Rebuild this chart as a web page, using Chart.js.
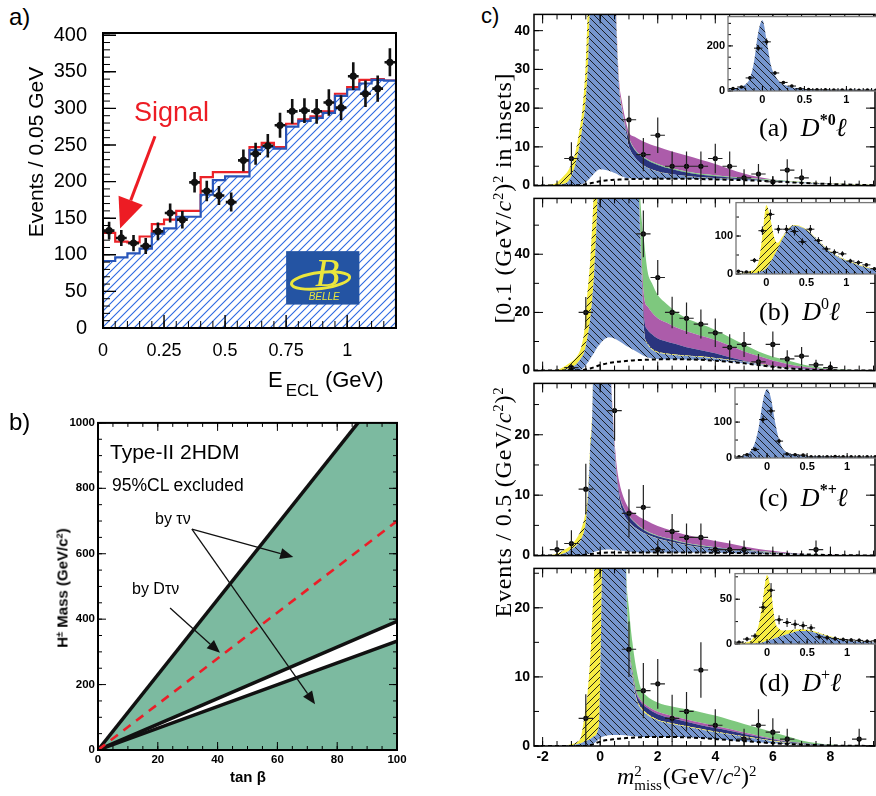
<!DOCTYPE html>
<html>
<head>
<meta charset="utf-8">
<title>B to D(*) tau nu</title>
<script src="https://cdn.jsdelivr.net/npm/chart.js@4.4.1/dist/chart.umd.min.js"></script>
<style>
  html, body { margin: 0; padding: 0; overflow: hidden; background: #fff; }
  body { position: relative; width: 876px; height: 796px; font-family: "Liberation Sans", Arial, sans-serif; color: #000; }
  canvas { position: absolute; }
  .t { position: absolute; white-space: nowrap; line-height: 1; z-index: 5; }
  .t sup { font-size: 0.62em; vertical-align: 0.55em; line-height: 0; }
  .rot { transform: translate(-50%, -50%) rotate(-90deg); }
  .serif { font-family: "Liberation Serif", "DejaVu Serif", serif; }
  .ss { display: inline-block; vertical-align: middle; font-size: 15px; line-height: 14px; margin-right: 1px; }
  .ss span { display: block; }
  .lab sup { font-size: 16px; vertical-align: 11px; }
</style>
</head>
<body>

<!-- panel a texts -->
<div class="t" style="left:9px;top:5px;font-size:24px">a)</div>
<div class="t" style="left:134px;top:99px;font-size:27px;color:#ed1c24">Signal</div>
<div class="t rot" style="left:35px;top:152px;font-size:21px">Events / 0.05 GeV</div>
<div class="t" style="left:268px;top:369px;font-size:22px">E<span style="font-size:17px;position:relative;top:9px;margin-left:3px">ECL</span> (GeV)</div>

<!-- panel b texts -->
<div class="t" style="left:9px;top:410px;font-size:24px">b)</div>
<div class="t" style="left:110px;top:441px;font-size:21px">Type-II 2HDM</div>
<div class="t" style="left:112px;top:477px;font-size:17.5px">95%CL excluded</div>
<div class="t" style="left:155px;top:511px;font-size:16px">by τν</div>
<div class="t" style="left:132px;top:581px;font-size:16px">by Dτν</div>
<div class="t" style="left:230px;top:769px;font-size:15px;font-weight:bold">tan β</div>
<div class="t rot" style="left:62px;top:588px;font-size:15px;font-weight:bold">H<sup>±</sup> Mass (GeV/c<sup>2</sup>)</div>

<!-- panel c texts -->
<div class="t" style="left:481px;top:5px;font-size:22px">c)</div>
<div class="t rot serif" style="left:503px;top:198px;font-size:24px;letter-spacing:0.8px">[0.1 (GeV/<i>c</i><sup>2</sup>)<sup>2</sup> in insets]</div>
<div class="t rot serif" style="left:503px;top:502px;font-size:24px;letter-spacing:0.8px">Events / 0.5 (GeV/<i>c</i><sup>2</sup>)<sup>2</sup></div>
<div class="t serif lab" style="left:759px;top:115px;font-size:26px">(a)&nbsp; <i>D</i><sup><b>*0</b></sup><i>ℓ</i></div>
<div class="t serif lab" style="left:759px;top:299px;font-size:26px">(b)&nbsp; <i>D</i><sup>0</sup><i>ℓ</i></div>
<div class="t serif lab" style="left:759px;top:485px;font-size:26px">(c)&nbsp; <i>D</i><sup><b>*+</b></sup><i>ℓ</i></div>
<div class="t serif lab" style="left:759px;top:670px;font-size:26px">(d)&nbsp; <i>D</i><sup>+</sup><i>ℓ</i></div>
<div class="t serif" style="left:617px;top:764px;font-size:24px"><i>m</i><span class="ss"><span>2</span><span>miss</span></span>(GeV/<i>c</i><sup>2</sup>)<sup>2</sup></div>

<script>
// ---------------- panel a : E_ECL ----------------
const eEclEdges = [0, 0.05, 0.1, 0.15, 0.2, 0.25, 0.3, 0.35, 0.4, 0.45, 0.5, 0.55, 0.6, 0.65, 0.7, 0.75, 0.8, 0.85, 0.9, 0.95, 1.0, 1.05, 1.1, 1.15, 1.2];
const eEclCenters = [0.025, 0.075, 0.125, 0.175, 0.225, 0.275, 0.325, 0.375, 0.425, 0.475, 0.525, 0.575, 0.625, 0.675, 0.725, 0.775, 0.825, 0.875, 0.925, 0.975, 1.025, 1.075, 1.125, 1.175];
const eEclEvents = [133, 123, 116, 112, 132, 157, 148, 199, 187, 181, 172, 229, 238, 249, 277, 296, 297, 296, 308, 301, 344, 320, 327, 363];
const eEclErr = [12, 11, 11, 11, 12, 13, 12, 14, 14, 13, 13, 15, 15, 16, 17, 17, 17, 17, 18, 17, 19, 18, 18, 19];
const eEclBkg = [91.5, 96.6, 102, 108.5, 129, 136, 152, 152, 182, 202, 207, 207, 243, 247, 245, 275, 283, 287, 294, 317, 326, 334, 339, 338];
const eEclTotal = [130, 118, 117, 125, 142, 148, 160, 160, 206, 213, 213, 213, 247, 253, 247, 279, 285, 289, 296, 320, 329, 339, 340, 338];
const eEclXTicks = [0, 0.25, 0.5, 0.75, 1];
const eEclYTicks = [0, 50, 100, 150, 200, 250, 300, 350, 400];

// ---------------- panel b : tan beta vs H+ mass ----------------
const tanBeta = [0, 100];
const mHTauNu = [0, 1150];
const mHDTauNuUp = [0, 393];
const mHDTauNuLow = [0, 333];
const mHDTauNuExp = [0, 700];
const tanBetaTicks = [0, 20, 40, 60, 80, 100];
const mHTicks = [0, 200, 400, 600, 800, 1000];

// ---------------- panel c : m_miss^2 fits (stack tops) ----------------
const mm2Ticks = [-2, 0, 2, 4, 6, 8];

const dsz0Grid = [-2.3, -1.6, -1.3, -1.1, -0.9, -0.75, -0.6, -0.5, -0.4, -0.3, 0, 0.4, 0.55, 0.65, 0.75, 0.85, 1.0, 1.2, 1.5, 2, 2.5, 3, 3.5, 4, 4.5, 5, 5.5, 6, 6.5, 7, 8, 9.55];
const dsz0Comb = [0, 0, 0, 0, 0.05, 0.1, 0.2, 0.35, 0.5, 0.65, 1.1, 1.45, 1.5, 1.55, 1.6, 1.62, 1.65, 1.7, 1.75, 1.8, 1.8, 1.8, 1.7, 1.6, 1.5, 1.4, 1.25, 1.1, 0.9, 0.7, 0.4, 0.1];
const dsz0Other = [0, 0, 0, 0, 0.05, 0.15, 0.5, 1.0, 1.6, 2.4, 4.2, 3.6, 3.1, 2.7, 2.4, 2.1, 1.9, 1.8, 1.75, 1.8, 1.8, 1.8, 1.7, 1.6, 1.5, 1.4, 1.25, 1.1, 0.9, 0.7, 0.4, 0.1];
const dsz0Norm = [0, 0.05, 0.4, 1.2, 4.5, 9, 16, 22, 36, 70, 300, 90, 44, 26, 20, 15.5, 10, 7.3, 5.2, 3.6, 2.9, 2.4, 2.1, 1.9, 1.7, 1.55, 1.4, 1.25, 1.05, 0.85, 0.5, 0.12];
const dsz0Feed = [0, 0.4, 2.2, 4.0, 7.5, 13, 21, 32, 55, 90, 310, 92, 45, 26.5, 20.3, 15.7, 10.1, 7.35, 5.25, 3.65, 2.95, 2.45, 2.15, 1.95, 1.75, 1.6, 1.45, 1.3, 1.1, 0.9, 0.52, 0.13];
const dsz0Dss = [0, 0.4, 2.2, 4.0, 7.5, 13, 21, 32, 55, 90, 310, 92, 45, 26.5, 20.3, 16.2, 12, 9.2, 7.2, 5.3, 4.2, 3.4, 2.8, 2.4, 2.1, 1.85, 1.6, 1.4, 1.15, 0.95, 0.55, 0.13];
const dsz0DTau = [0, 0.4, 2.2, 4.0, 7.5, 13, 21, 32, 55, 90, 310, 92, 45, 26.5, 20.3, 16.3, 12.3, 9.45, 7.45, 5.55, 4.45, 3.65, 3.05, 2.65, 2.3, 2.0, 1.75, 1.5, 1.25, 1.0, 0.57, 0.13];
const dsz0DsTau = [0, 0.4, 2.2, 4.0, 7.5, 13, 21, 32, 55, 90, 310, 93, 46.5, 28, 22, 18, 13.8, 12.6, 11.4, 10, 8.8, 7.8, 6.7, 5.6, 4.3, 3.1, 2.2, 1.6, 1.25, 1.0, 0.57, 0.13];
const dsz0DataX = [-1, 1, 1.5, 2, 2.5, 3, 3.5, 4, 4.5, 5, 5.5, 6, 6.5, 7];
const dsz0DataY = [7, 17, 8, 13, 5, 5, 5, 7, 5, 2, 3, 1, 4, 2];
const dsz0DataErr = [4.2, 6.2, 4.3, 4.6, 3.8, 3.8, 3.8, 3.8, 3.8, 2.2, 2.6, 1.5, 2.8, 2.2];

const dz0Grid = [-2.3, -1.5, -1.2, -1.0, -0.8, -0.65, -0.55, -0.45, -0.32, -0.2, -0.1, 0.3, 1.0, 1.3, 1.42, 1.53, 1.65, 1.8, 2.0, 2.3, 2.6, 3.0, 3.5, 4.0, 4.5, 5, 5.5, 6, 6.5, 7, 7.5, 8, 9.55];
const dz0Comb = [0, 0, 0, 0, 0.1, 0.2, 0.3, 0.5, 0.8, 1.2, 1.6, 2.6, 3.4, 3.6, 3.65, 3.7, 3.75, 3.8, 3.85, 3.9, 3.9, 3.85, 3.7, 3.4, 3.0, 2.5, 1.9, 1.3, 0.8, 0.45, 0.2, 0.1, 0];
const dz0Other = [0, 0, 0, 0, 0.1, 0.4, 1.2, 2.5, 4.5, 6.3, 8, 11.5, 8.0, 6.3, 5.6, 5.0, 4.5, 4.2, 4.0, 3.9, 3.9, 3.85, 3.7, 3.4, 3.0, 2.5, 1.9, 1.3, 0.8, 0.45, 0.2, 0.1, 0];
const dz0Norm = [0, 0.05, 0.3, 1.0, 2.5, 4.5, 6.5, 11, 20, 35, 57, 200, 200, 75, 38, 13, 9, 7.2, 6.2, 5.6, 5.3, 5.0, 4.7, 4.2, 3.6, 3.0, 2.3, 1.6, 1.0, 0.6, 0.3, 0.12, 0];
const dz0Feed = [0, 0.3, 1.7, 3.0, 5.0, 8.5, 14, 26, 42, 70, 120, 250, 201, 76, 38.5, 13.4, 9.3, 7.5, 6.5, 5.9, 5.55, 5.2, 4.9, 4.35, 3.75, 3.1, 2.4, 1.7, 1.05, 0.62, 0.3, 0.12, 0];
const dz0Dss = [0, 0.3, 1.7, 3.0, 5.0, 8.5, 14, 26, 42, 70, 120, 250, 201, 76, 40, 17.7, 14, 12.5, 11, 10, 9.2, 8.0, 7.0, 6.0, 4.6, 3.4, 2.4, 1.6, 1.1, 0.7, 0.35, 0.13, 0];
const dz0DsTau = [0, 0.3, 1.7, 3.0, 5.0, 8.5, 14, 26, 42, 70, 120, 250, 201, 76, 42, 25, 22, 20, 18, 16.5, 15, 13.5, 12, 10.5, 8.6, 6.6, 5.0, 3.5, 2.3, 1.4, 0.8, 0.4, 0];
const dz0DTau = [0, 0.3, 1.7, 3.0, 5.0, 8.5, 14, 26, 42, 70, 120, 250, 201, 80, 55, 44, 34, 30, 26, 23, 20.5, 18, 16, 14, 11.5, 9.0, 6.6, 4.8, 3.6, 2.2, 1.3, 0.6, 0];
const dz0DataX = [-1, -0.5, 1.5, 2, 2.5, 3, 3.5, 4, 4.5, 5, 5.5, 6, 6.5, 7, 7.5, 8];
const dz0DataY = [1, 20, 47, 32, 20, 18, 16, 13, 8, 9, 3, 9, 4, 5, 2, 1];
const dz0DataErr = [1.2, 5.3, 8, 6, 5.4, 5.4, 5, 4.9, 4.5, 4.3, 2.7, 4.4, 3, 3.1, 1.7, 1.2];

const dspGrid = [-2.3, -1.6, -1.3, -1.0, -0.8, -0.65, -0.5, -0.42, -0.35, -0.25, 0, 0.35, 0.45, 0.55, 0.65, 0.8, 1.0, 1.3, 1.6, 2.0, 2.5, 3, 3.5, 4, 4.5, 5, 5.5, 6, 6.5, 7, 8, 9.55];
const dspComb = [0, 0, 0, 0, 0.05, 0.1, 0.15, 0.2, 0.25, 0.3, 0.45, 0.5, 0.5, 0.5, 0.5, 0.5, 0.5, 0.5, 0.5, 0.5, 0.5, 0.5, 0.5, 0.48, 0.45, 0.4, 0.35, 0.3, 0.25, 0.2, 0.1, 0];
const dspOther = [0, 0, 0, 0, 0.05, 0.1, 0.15, 0.25, 0.35, 0.55, 0.9, 1.0, 0.95, 0.9, 0.85, 0.75, 0.65, 0.55, 0.5, 0.5, 0.5, 0.5, 0.5, 0.48, 0.45, 0.4, 0.35, 0.3, 0.25, 0.2, 0.1, 0];
const dspNorm = [0, 0.02, 0.3, 1.0, 1.8, 2.8, 5.5, 10, 17, 30, 200, 35, 22, 14, 9.5, 7.0, 5.5, 4.3, 3.5, 2.8, 2.2, 1.7, 1.35, 1.1, 0.9, 0.75, 0.6, 0.45, 0.33, 0.22, 0.1, 0];
const dspFeed = [0, 0.2, 0.8, 1.8, 3.0, 4.5, 7.5, 11, 18, 31, 201, 35.1, 22.1, 14.1, 9.6, 7.05, 5.55, 4.35, 3.55, 2.85, 2.25, 1.75, 1.4, 1.12, 0.92, 0.77, 0.62, 0.46, 0.34, 0.23, 0.1, 0];
const dspDss = [0, 0.2, 0.8, 1.8, 3.0, 4.5, 7.5, 11, 18, 31, 201, 35.1, 22.1, 14.5, 10.5, 8.0, 6.5, 5.0, 4.0, 3.2, 2.6, 2.0, 1.6, 1.3, 1.1, 0.9, 0.7, 0.5, 0.36, 0.24, 0.1, 0];
const dspDTau = [0, 0.2, 0.8, 1.8, 3.0, 4.5, 7.5, 11, 18, 31, 201, 35.1, 22.1, 14.6, 10.6, 8.1, 6.6, 5.1, 4.1, 3.3, 2.7, 2.1, 1.7, 1.4, 1.15, 0.95, 0.75, 0.55, 0.4, 0.26, 0.1, 0];
const dspDsTau = [0, 0.2, 0.8, 1.8, 3.0, 4.5, 7.5, 11, 18, 31, 201, 36, 23, 16, 12.5, 9.8, 7.8, 6.6, 5.8, 4.9, 4.1, 3.4, 2.9, 2.4, 2.0, 1.5, 1.1, 0.8, 0.5, 0.3, 0.12, 0];
const dspDataX = [-1.5, -1, -0.5, 0.5, 1, 1.5, 2, 2.5, 3, 3.5, 4, 4.5, 5, 7.5];
const dspDataY = [1, 2, 11, 24, 7, 8, 1, 4, 3, 3, 1, 1, 1, 1];
const dspDataErr = [1.5, 2.2, 4.2, 5, 4, 3.7, 1.5, 2.9, 2.3, 2.3, 1.5, 1.5, 1.5, 1.5];

const dpGrid = [-2.3, -1.5, -1.0, -0.8, -0.67, -0.56, -0.44, -0.32, -0.21, -0.1, -0.02, 0.05, 0.5, 0.9, 1.0, 1.12, 1.24, 1.4, 1.6, 2.0, 2.5, 3, 3.5, 4, 4.5, 5, 5.5, 6, 6.5, 7, 8, 9.55];
const dpComb = [0, 0, 0, 0, 0, 0, 0.05, 0.15, 0.3, 0.5, 0.6, 0.7, 1.0, 1.15, 1.2, 1.2, 1.25, 1.25, 1.3, 1.3, 1.3, 1.25, 1.15, 1.0, 0.85, 0.7, 0.55, 0.4, 0.3, 0.2, 0.08, 0];
const dpOther = [0, 0, 0, 0, 0, 0, 0.05, 0.2, 0.4, 0.8, 1.1, 1.3, 1.6, 1.55, 1.5, 1.45, 1.4, 1.35, 1.3, 1.3, 1.3, 1.25, 1.15, 1.0, 0.85, 0.7, 0.55, 0.4, 0.3, 0.2, 0.08, 0];
const dpNorm = [0, 0, 0.1, 0.25, 0.4, 0.6, 0.85, 1.1, 1.4, 2.0, 5.0, 22, 150, 25, 14.6, 10, 7.0, 5.5, 4.6, 3.7, 3.2, 2.8, 2.4, 2.0, 1.65, 1.3, 1.0, 0.7, 0.45, 0.3, 0.1, 0];
const dpFeed = [0, 0, 0.25, 0.6, 1.3, 3.9, 7.6, 14.6, 25.5, 45, 80, 120, 152, 25.2, 14.8, 10.2, 7.2, 5.7, 4.8, 3.8, 3.3, 2.9, 2.5, 2.1, 1.75, 1.4, 1.1, 0.8, 0.5, 0.33, 0.11, 0];
const dpDss = [0, 0, 0.25, 0.6, 1.3, 3.9, 7.6, 14.6, 25.5, 45, 80, 120, 152, 25.3, 15.0, 10.6, 7.8, 6.4, 5.6, 4.6, 4.0, 3.5, 3.0, 2.6, 2.2, 1.75, 1.35, 0.95, 0.6, 0.4, 0.12, 0];
const dpDsTau = [0, 0, 0.25, 0.6, 1.3, 3.9, 7.6, 14.6, 25.5, 45, 80, 120, 152, 25.4, 15.2, 10.9, 8.1, 6.7, 5.9, 4.95, 4.35, 3.85, 3.35, 2.9, 2.45, 1.95, 1.5, 1.05, 0.7, 0.45, 0.14, 0];
const dpDTau = [0, 0, 0.25, 0.6, 1.3, 3.9, 7.6, 14.6, 25.5, 45, 80, 120, 152, 27, 20, 15, 11.5, 8.5, 7.3, 6.3, 5.7, 5.3, 4.9, 4.4, 3.8, 3.2, 2.6, 2.0, 1.4, 0.8, 0.2, 0];
const dpDataX = [-0.5, 1, 1.5, 2, 2.5, 3, 3.5, 4, 5, 5.5, 6, 6.5, 9];
const dpDataY = [4, 14, 8, 9, 4, 5, 11, 3, 1, 3, 2, 1, 1];
const dpDataErr = [3.5, 4, 4, 3.6, 3.4, 2.8, 4, 2.3, 1.5, 2.3, 2, 1.5, 1.5];

// ---------------- insets (0.1 GeV^2 bins) ----------------
const insetCenters = [-0.35, -0.25, -0.15, -0.05, 0.05, 0.15, 0.25, 0.35, 0.45, 0.55, 0.65, 0.75, 0.85, 0.95, 1.05, 1.15, 1.25, 1.35];
const insetXTicks = [0, 0.5, 1];

const inDsz0Grid = [-0.41, -0.3, -0.2, -0.15, -0.1, -0.05, 0, 0.05, 0.1, 0.15, 0.2, 0.3, 0.4, 0.5, 0.7, 1.0, 1.4];
const inDsz0Norm = [8, 14, 30, 55, 130, 260, 314, 225, 115, 70, 42, 22, 13, 9, 6, 5, 4];
const inDsz0Y = [11, 18, 58, 190, 218, 80, 38, 22, 10, 6, 5, 5, 4, 4, 4, 3, 4, 3];
const inDsz0Err = [3, 4, 8, 14, 15, 9, 6, 5, 3, 2.5, 2, 2, 2, 2, 2, 2, 2, 2];

const inDz0Grid = [-0.38, -0.3, -0.2, -0.1, -0.05, 0, 0.05, 0.1, 0.14, 0.2, 0.3, 0.35, 0.4, 0.5, 0.6, 0.7, 0.8, 0.9, 1.0, 1.1, 1.2, 1.3, 1.42];
const inDz0Norm = [0, 0.5, 1, 4, 8, 15, 30, 50, 65, 92, 122, 127, 126, 116, 97, 76, 58, 44, 35, 27, 20, 14, 10];
const inDz0Feed = [1, 3, 7, 30, 100, 182, 145, 95, 82, 98, 125, 129, 128, 118, 99, 78, 60, 46, 37, 29, 22, 16, 11];
const inDz0Y = [7, 5, 36, 114, 157, 118, 118, 112, 85, 118, 88, 66, 57, 53, 34, 30, 24, 14];
const inDz0Err = [3, 2.5, 6, 11, 13, 11, 11, 11, 9, 11, 9, 8, 8, 7, 6, 6, 5, 4];

const inDspGrid = [-0.4, -0.3, -0.2, -0.15, -0.1, -0.05, 0, 0.05, 0.1, 0.15, 0.2, 0.3, 0.4, 0.5, 0.7, 1.0, 1.41];
const inDspNorm = [2, 6, 20, 43, 90, 160, 192, 165, 100, 51, 25, 11, 8, 5, 4, 3, 3];
const inDspY = [3, 9, 24, 107, 131, 47, 11, 9, 8, 3, 3, 3, 4, 3, 3, 3, 3, 3];
const inDspErr = [2, 3, 5, 10, 11, 7, 3, 3, 3, 2, 2, 2, 2, 2, 2, 2, 2, 2];

const inDpGrid = [-0.4, -0.3, -0.2, -0.15, -0.1, -0.05, 0, 0.05, 0.1, 0.15, 0.2, 0.3, 0.4, 0.5, 0.6, 0.75, 1.0, 1.2, 1.41];
const inDpNorm = [0, 0, 0.3, 0.6, 1, 2, 3.5, 5, 6.5, 8, 9.5, 12, 14.5, 14.5, 12.5, 8.5, 4, 2.5, 1.5];
const inDpFeed = [0.5, 1.5, 4, 10, 23, 50, 77, 58, 25, 17, 15, 15.5, 16.5, 16, 14, 9.5, 4.5, 2.8, 1.7];
const inDpY = [2, 5.5, 9, 41, 60, 27, 24, 22, 20.5, 18, 8, 7, 6, 5, 4.5, 4, 3, 3.5];
const inDpErr = [1.5, 2.5, 3, 6, 8, 5, 5, 5, 4.5, 4, 3, 3, 2.5, 2.2, 2, 2, 2, 2];

// ---------------- styling ----------------
Chart.defaults.font.family = '"Liberation Sans", Arial, sans-serif';
Chart.defaults.color = '#000';

const colBlue = 'rgb(118,150,206)';
const colYellow = 'rgb(246,236,66)';
const colNavy = 'rgb(42,52,126)';
const colMagenta = 'rgb(172,92,170)';
const colGreen = 'rgb(126,200,126)';
const clear = 'rgba(0,0,0,0)';

function tile(size, bg, ink, dir, lw) {
  const c = document.createElement('canvas');
  c.width = size; c.height = size;
  const g = c.getContext('2d');
  if (bg) { g.fillStyle = bg; g.fillRect(0, 0, size, size); }
  g.strokeStyle = ink; g.lineWidth = lw;
  g.beginPath();
  if (dir === '/') {
    g.moveTo(-1, size + 1); g.lineTo(size + 1, -1);
    g.moveTo(-1, 1); g.lineTo(1, -1);
    g.moveTo(size - 1, size + 1); g.lineTo(size + 1, size - 1);
  } else {
    g.moveTo(-1, -1); g.lineTo(size + 1, size + 1);
    g.moveTo(-1, size - 1); g.lineTo(1, size + 1);
    g.moveTo(size - 1, -1); g.lineTo(size + 1, 1);
  }
  g.stroke();
  return document.createElement('canvas').getContext('2d').createPattern(c, 'repeat');
}
const hatchA = tile(8, '#ffffff', 'rgb(45,105,225)', '/', 1.1);
const hatchBlue = tile(7, colBlue, '#111', '\\', 0.9);
const hatchYellow = tile(7, colYellow, '#111', '/', 0.9);

function arrow(ctx, x0, y0, x1, y1, head, half, lw, color) {
  const ang = Math.atan2(y1 - y0, x1 - x0);
  const bx = x1 - head * Math.cos(ang), by = y1 - head * Math.sin(ang);
  ctx.strokeStyle = color; ctx.fillStyle = color; ctx.lineWidth = lw;
  ctx.beginPath(); ctx.moveTo(x0, y0); ctx.lineTo(bx, by); ctx.stroke();
  ctx.beginPath(); ctx.moveTo(x1, y1);
  ctx.lineTo(bx + half * Math.sin(ang), by - half * Math.cos(ang));
  ctx.lineTo(bx - half * Math.sin(ang), by + half * Math.cos(ang));
  ctx.closePath(); ctx.fill();
}

// frame, inward ticks, error bars, extras
function deco(s) {
  return {
    id: 'deco',
    beforeDraw(chart) {
      if (!s.whiteBg) return;
      const a = chart.chartArea, ctx = chart.ctx;
      ctx.save(); ctx.fillStyle = '#fff'; ctx.fillRect(a.left, a.top, a.width, a.height); ctx.restore();
    },
    afterDatasetsDraw(chart) {
      const ctx = chart.ctx, a = chart.chartArea, xs = chart.scales.x, ys = chart.scales.y;
      ctx.save();
      ctx.beginPath(); ctx.rect(a.left, a.top, a.width, a.height); ctx.clip();
      chart.data.datasets.forEach(ds => {
        if (!ds.errY) return;
        ctx.strokeStyle = ds.barColor || '#000'; ctx.lineWidth = ds.barWidth || 1;
        ctx.beginPath();
        ds.data.forEach((p, i) => {
          const px = xs.getPixelForValue(p.x), py = ys.getPixelForValue(p.y);
          ctx.moveTo(px, ys.getPixelForValue(p.y - ds.errY[i]));
          ctx.lineTo(px, ys.getPixelForValue(p.y + ds.errY[i]));
          ctx.moveTo(xs.getPixelForValue(p.x - ds.errX), py);
          ctx.lineTo(xs.getPixelForValue(p.x + ds.errX), py);
        });
        ctx.stroke();
      });
      ctx.restore();
      if (s.extra) { ctx.save(); s.extra(chart); ctx.restore(); }
      ctx.save();
      ctx.strokeStyle = '#000';
      (s.ticks || []).forEach(t => {
        const sc = t.axis === 'x' ? xs : ys;
        const n0 = Math.ceil(sc.min / t.step - 1e-6), n1 = Math.floor(sc.max / t.step + 1e-6);
        ctx.lineWidth = t.width || 1;
        ctx.beginPath();
        for (let n = n0; n <= n1; n++) {
          const p = sc.getPixelForValue(n * t.step);
          if (t.axis === 'x') {
            if (t.sides.includes('b')) { ctx.moveTo(p, a.bottom); ctx.lineTo(p, a.bottom - t.len); }
            if (t.sides.includes('t')) { ctx.moveTo(p, a.top); ctx.lineTo(p, a.top + t.len); }
          } else {
            if (t.sides.includes('l')) { ctx.moveTo(a.left, p); ctx.lineTo(a.left + t.len, p); }
            if (t.sides.includes('r')) { ctx.moveTo(a.right, p); ctx.lineTo(a.right - t.len, p); }
          }
        }
        ctx.stroke();
      });
      if (s.frame) {
        ctx.strokeStyle = s.frame.color; ctx.lineWidth = s.frame.width;
        ctx.strokeRect(a.left, a.top, a.width, a.height);
      }
      ctx.restore();
    }
  };
}

function axis(o, horiz, size) {
  return {
    type: 'linear', min: o.min, max: o.max, display: o.show !== false,
    grid: { display: false, drawTicks: false }, border: { display: false },
    ticks: { font: o.font, color: '#000', padding: o.pad, autoSkip: false, maxRotation: 0, minRotation: 0, callback: v => String(v) },
    afterBuildTicks: sc => { sc.ticks = o.labels.map(v => ({ value: v })); },
    afterFit: sc => { if (horiz) sc.height = size; else sc.width = size; }
  };
}

function makeChart(area, m, xAx, yAx, datasets, plugin) {
  const cv = document.createElement('canvas');
  cv.width = area.w + m.l + m.r;
  cv.height = area.h + m.t + m.b;
  cv.style.left = (area.l - m.l) + 'px';
  cv.style.top = (area.t - m.t) + 'px';
  document.body.appendChild(cv);
  return new Chart(cv.getContext('2d'), {
    type: 'line',
    data: { datasets },
    options: {
      responsive: false, animation: false, events: [],
      layout: { autoPadding: false, padding: { left: yAx.show === false ? m.l : 0, top: m.t, right: m.r, bottom: xAx.show === false ? m.b : 0 } },
      scales: { x: axis(xAx, true, m.b), y: axis(yAx, false, m.l) },
      plugins: { legend: { display: false }, tooltip: { enabled: false } }
    },
    plugins: [plugin]
  });
}

const xy = (xs, ys) => xs.map((x, i) => ({ x, y: ys[i] }));

// ---------------- panel a chart ----------------
const steps = vals => [{ x: eEclEdges[0], y: 0 }, ...vals.map((v, i) => ({ x: eEclEdges[i], y: v })),
  { x: eEclEdges[vals.length], y: vals[vals.length - 1] }, { x: eEclEdges[vals.length], y: 0 }];
const belleBox = [0.75, 1.05, 32, 105];
const signalArrow = [0.213, 262, 0.07, 136];

makeChart({ l: 103, t: 13, w: 293, h: 315 }, { l: 62, t: 8, r: 14, b: 40 },
  { min: 0, max: 1.2, labels: eEclXTicks, font: { size: 18 }, pad: 12 },
  { min: 0, max: 403, labels: eEclYTicks, font: { size: 20 }, pad: 16 },
  [
    { type: 'scatter', data: xy(eEclCenters, eEclEvents), errY: eEclErr, errX: 0.022, barWidth: 2.6, barColor: '#111',
      pointRadius: 3.6, backgroundColor: '#111', borderWidth: 0, order: 0 },
    { data: steps(eEclBkg), stepped: true, borderColor: 'rgb(40,85,185)', borderWidth: 2.2, fill: 'origin',
      backgroundColor: hatchA, pointRadius: 0, order: 1 },
    { data: steps(eEclTotal), stepped: true, borderColor: 'rgb(235,35,40)', borderWidth: 2.2, fill: false, pointRadius: 0, order: 2 }
  ],
  deco({
    frame: { color: '#000', width: 2 },
    ticks: [{ axis: 'y', step: 10, len: 7, sides: 'l' }, { axis: 'y', step: 50, len: 13, sides: 'l', width: 1.4 },
            { axis: 'x', step: 0.05, len: 7, sides: 'b' }, { axis: 'x', step: 0.25, len: 13, sides: 'b', width: 1.4 }],
    extra(chart) {
      const ctx = chart.ctx, xs = chart.scales.x, ys = chart.scales.y;
      const l = xs.getPixelForValue(belleBox[0]), r = xs.getPixelForValue(belleBox[1]);
      const t = ys.getPixelForValue(belleBox[3]), b = ys.getPixelForValue(belleBox[2]);
      const w = r - l, h = b - t;
      ctx.fillStyle = 'rgb(36,84,163)'; ctx.fillRect(l, t, w, h);
      ctx.strokeStyle = 'rgb(235,230,60)'; ctx.fillStyle = 'rgb(235,230,60)';
      ctx.lineWidth = 3;
      ctx.beginPath(); ctx.ellipse(l + w * 0.47, t + h * 0.55, w * 0.4, h * 0.15, -0.12, 0, Math.PI * 2); ctx.stroke();
      ctx.font = 'italic 40px "Liberation Serif"'; ctx.textAlign = 'center'; ctx.textBaseline = 'alphabetic';
      ctx.fillText('B', l + w * 0.56, t + h * 0.66);
      ctx.font = 'italic 10px "Liberation Sans"';
      ctx.fillText('BELLE', l + w * 0.52, t + h * 0.92);
      arrow(ctx, xs.getPixelForValue(signalArrow[0]), ys.getPixelForValue(signalArrow[1]),
        xs.getPixelForValue(signalArrow[2]), ys.getPixelForValue(signalArrow[3]), 30, 13, 3, 'rgb(237,28,36)');
    }
  }));

// ---------------- panel b chart ----------------
const tauNuArrows = [[31.4, 675, 65.3, 590], [31.4, 675, 72.6, 140]];
const dTauNuArrow = [24.1, 434, 40.8, 297];

makeChart({ l: 98, t: 421, w: 299, h: 329 }, { l: 36, t: 8, r: 14, b: 26 },
  { min: 0, max: 100, labels: tanBetaTicks, font: { size: 11.5, weight: 'bold' }, pad: 3 },
  { min: 0, max: 1000, labels: mHTicks, font: { size: 11.5, weight: 'bold' }, pad: 3 },
  [
    { data: xy(tanBeta, mHTauNu), fill: 'origin', backgroundColor: 'rgb(124,186,160)', borderColor: '#111', borderWidth: 3.5, pointRadius: 0, order: 3 },
    { data: xy(tanBeta, mHDTauNuUp), fill: '+1', backgroundColor: '#fff', borderColor: '#111', borderWidth: 3.5, pointRadius: 0, order: 2 },
    { data: xy(tanBeta, mHDTauNuLow), fill: false, borderColor: '#111', borderWidth: 3.5, pointRadius: 0, order: 1 },
    { data: xy(tanBeta, mHDTauNuExp), fill: false, borderColor: 'rgb(235,30,40)', borderDash: [9, 7], borderWidth: 2.6, pointRadius: 0, order: 0 }
  ],
  deco({
    frame: { color: '#000', width: 2 },
    ticks: [{ axis: 'y', step: 50, len: 4, sides: 'lr' }, { axis: 'y', step: 200, len: 8, sides: 'lr' },
            { axis: 'x', step: 5, len: 4, sides: 'tb' }, { axis: 'x', step: 20, len: 8, sides: 'tb' }],
    extra(chart) {
      const ctx = chart.ctx, xs = chart.scales.x, ys = chart.scales.y;
      [...tauNuArrows, dTauNuArrow].forEach(a =>
        arrow(ctx, xs.getPixelForValue(a[0]), ys.getPixelForValue(a[1]), xs.getPixelForValue(a[2]), ys.getPixelForValue(a[3]), 13, 5.5, 1.3, '#111'));
    }
  }));

// ---------------- panel c charts ----------------
function subPanel(cfg) {
  const g = cfg.grid;
  const layer = (arr, color) => ({ data: xy(g, arr), fill: '-1', backgroundColor: color, borderColor: clear, borderWidth: 0,
    pointRadius: 0, cubicInterpolationMode: 'monotone', order: 2 });
  const datasets = [
    { data: xy(g, cfg.comb), fill: false, borderColor: '#000', borderWidth: 2, borderDash: [4, 3], pointRadius: 0,
      cubicInterpolationMode: 'monotone', order: 1 },
    { data: xy(g, cfg.other), fill: false, borderColor: clear, borderWidth: 0, pointRadius: 0, cubicInterpolationMode: 'monotone', order: 2 },
    layer(cfg.norm, hatchBlue),
    layer(cfg.feed, hatchYellow),
    layer(cfg.dss, colNavy),
    ...cfg.tops.map(tp => layer(tp[0], tp[1])),
    { type: 'scatter', data: xy(cfg.dx, cfg.dy), errY: cfg.de, errX: 0.25, barWidth: 1.2, barColor: '#222',
      pointRadius: 2.6, backgroundColor: '#000', borderWidth: 0, order: 0 }
  ];
  const bottom = !!cfg.bottom;
  makeChart(cfg.area, { l: 30, t: 6, r: 6, b: bottom ? 26 : 6 },
    { min: -2.3, max: 9.55, labels: mm2Ticks, font: { size: 14, weight: 'bold' }, pad: 3, show: bottom },
    { min: 0, max: cfg.yMax, labels: cfg.yLabels, font: { size: 14, weight: 'bold' }, pad: 4 },
    datasets,
    deco({
      frame: { color: '#000', width: 1.5 },
      ticks: [{ axis: 'x', step: 0.5, len: 5, sides: 'tb' }, { axis: 'x', step: 2, len: 9, sides: 'tb' },
              { axis: 'y', step: cfg.yMinor, len: 5, sides: 'lr' }, { axis: 'y', step: cfg.yMajor, len: 9, sides: 'lr' }]
    }));
}

subPanel({ area: { l: 534, t: 8, w: 341, h: 184 }, yMax: 44.2, yLabels: [0, 10, 20, 30, 40], yMinor: 5, yMajor: 10,
  grid: dsz0Grid, comb: dsz0Comb, other: dsz0Other, norm: dsz0Norm, feed: dsz0Feed, dss: dsz0Dss,
  tops: [[dsz0DTau, colGreen], [dsz0DsTau, colMagenta]], dx: dsz0DataX, dy: dsz0DataY, de: dsz0DataErr });
subPanel({ area: { l: 534, t: 192, w: 341, h: 185 }, yMax: 59.2, yLabels: [0, 20, 40], yMinor: 10, yMajor: 20,
  grid: dz0Grid, comb: dz0Comb, other: dz0Other, norm: dz0Norm, feed: dz0Feed, dss: dz0Dss,
  tops: [[dz0DsTau, colMagenta], [dz0DTau, colGreen]], dx: dz0DataX, dy: dz0DataY, de: dz0DataErr });
subPanel({ area: { l: 534, t: 377, w: 341, h: 185 }, yMax: 28.5, yLabels: [0, 10, 20], yMinor: 5, yMajor: 10,
  grid: dspGrid, comb: dspComb, other: dspOther, norm: dspNorm, feed: dspFeed, dss: dspDss,
  tops: [[dspDTau, colGreen], [dspDsTau, colMagenta]], dx: dspDataX, dy: dspDataY, de: dspDataErr });
subPanel({ area: { l: 534, t: 562, w: 341, h: 184 }, yMax: 25.7, yLabels: [0, 10, 20], yMinor: 5, yMajor: 10, bottom: true,
  grid: dpGrid, comb: dpComb, other: dpOther, norm: dpNorm, feed: dpFeed, dss: dpDss,
  tops: [[dpDsTau, colMagenta], [dpDTau, colGreen]], dx: dpDataX, dy: dpDataY, de: dpDataErr });

// ---------------- insets ----------------
function inset(cfg) {
  const datasets = [
    { data: xy(cfg.grid, cfg.norm), fill: 'origin', backgroundColor: hatchBlue, borderColor: clear, borderWidth: 0,
      pointRadius: 0, cubicInterpolationMode: 'monotone', order: 2 }
  ];
  if (cfg.feed) datasets.push({ data: xy(cfg.grid, cfg.feed), fill: '-1', backgroundColor: hatchYellow, borderColor: clear,
    borderWidth: 0, pointRadius: 0, cubicInterpolationMode: 'monotone', order: 2 });
  datasets.push({ type: 'scatter', data: xy(insetCenters, cfg.y), errY: cfg.err, errX: 0.05, barWidth: 1, barColor: '#111',
    pointRadius: 1.8, backgroundColor: '#000', borderWidth: 0, order: 0 });
  makeChart(cfg.area, { l: 30, t: 4, r: 4, b: 16 },
    { min: cfg.xMin, max: cfg.xMax, labels: insetXTicks, font: { size: 11, weight: 'bold' }, pad: 2 },
    { min: 0, max: cfg.yMax, labels: cfg.yLabels, font: { size: 11, weight: 'bold' }, pad: 3 },
    datasets,
    deco({
      whiteBg: true,
      frame: { color: '#777', width: 1.3 },
      ticks: [{ axis: 'x', step: 0.1, len: 3, sides: 'b' }, { axis: 'x', step: 0.5, len: 5, sides: 'b' },
              { axis: 'y', step: cfg.yMinor, len: 3, sides: 'l' }, { axis: 'y', step: cfg.yLabels[1], len: 5, sides: 'l' }]
    }));
}

inset({ area: { l: 728, t: 11, w: 152, h: 80 }, xMin: -0.41, xMax: 1.4, yMax: 330, yLabels: [0, 200], yMinor: 50,
  grid: inDsz0Grid, norm: inDsz0Norm, y: inDsz0Y, err: inDsz0Err });
inset({ area: { l: 736, t: 197, w: 144, h: 77 }, xMin: -0.38, xMax: 1.42, yMax: 188, yLabels: [0, 100], yMinor: 50,
  grid: inDz0Grid, norm: inDz0Norm, feed: inDz0Feed, y: inDz0Y, err: inDz0Err });
inset({ area: { l: 735, t: 382, w: 145, h: 76 }, xMin: -0.4, xMax: 1.41, yMax: 196, yLabels: [0, 100], yMinor: 50,
  grid: inDspGrid, norm: inDspNorm, y: inDspY, err: inDspErr });
inset({ area: { l: 735, t: 568, w: 145, h: 76 }, xMin: -0.4, xMax: 1.41, yMax: 78.6, yLabels: [0, 50], yMinor: 25,
  grid: inDpGrid, norm: inDpNorm, feed: inDpFeed, y: inDpY, err: inDpErr });
</script>
</body>
</html>
